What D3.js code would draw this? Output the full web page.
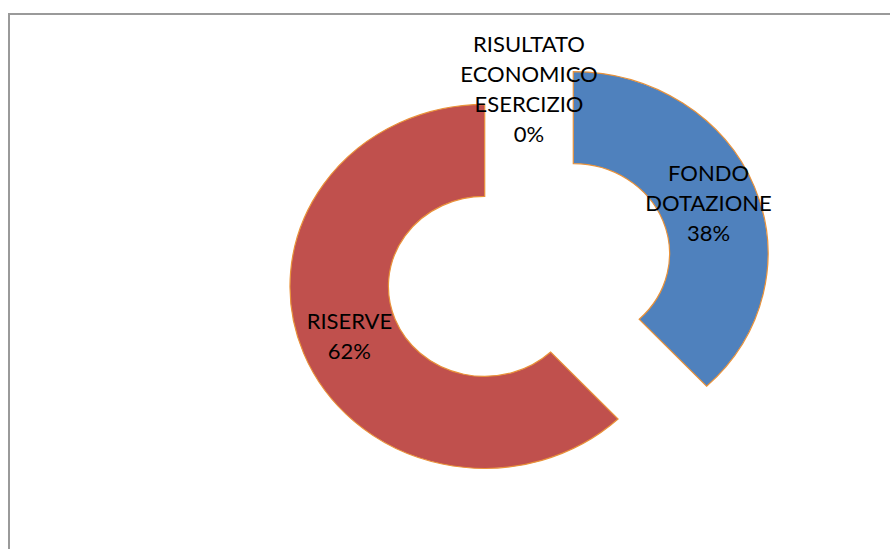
<!DOCTYPE html>
<html>
<head>
<meta charset="utf-8">
<script src="https://cdn.jsdelivr.net/npm/d3@7"></script>
<style>
  html, body { margin: 0; padding: 0; background: #fff; }
  svg { display: block; }
</style>
</head>
<body>
<svg id="chart" width="890" height="549"></svg>
<script>
// Composition of the patrimonio netto
const categories = ["FONDO DOTAZIONE", "RISERVE", "RISULTATO ECONOMICO ESERCIZIO"];
const values = [38, 62, 0];
const colors = ["#4F81BD", "#C0504D", "#9BBB59"];

const W = 890, H = 549;
const cx = 529, cy = 270;
const outerR = 182, innerR = 90;
const explode = 44.5;       // distance each slice is pulled out of the ring
const sx = 1.07;            // horizontal stretch of the plot area

const svg = d3.select("#chart");

// chart frame
svg.append("rect")
  .attr("x", 9).attr("y", 14)
  .attr("width", W + 20).attr("height", H + 20)
  .attr("fill", "#fff")
  .attr("stroke", "#9a9a9a")
  .attr("stroke-width", 2);

const data = categories.map((c, i) => ({ name: c, value: values[i], color: colors[i] }));
const total = d3.sum(values);

const pie = d3.pie().sort(null).value(d => d.value).startAngle(0).endAngle(2 * Math.PI);
const arcs = pie(data);

const arc = d3.arc().innerRadius(innerR).outerRadius(outerR);
const labelArc = d3.arc().innerRadius((innerR + outerR) / 2).outerRadius((innerR + outerR) / 2);

function offset(d) {
  const a = (d.startAngle + d.endAngle) / 2;
  return [explode * Math.sin(a), -explode * Math.cos(a)];
}

const ring = svg.append("g")
  .attr("transform", `translate(${cx},${cy}) scale(${sx},1)`);

ring.selectAll("path")
  .data(arcs.filter(d => d.value > 0))
  .join("path")
  .attr("transform", d => `translate(${offset(d)[0]},${offset(d)[1]})`)
  .attr("d", arc)
  .attr("fill", d => d.data.color)
  .attr("stroke", "#E9923A")
  .attr("stroke-width", 1.2)
  .attr("vector-effect", "non-scaling-stroke");

// data labels: category words stacked, percentage below
const lineH = 30;
const labels = svg.append("g")
  .attr("font-family", "Lato, 'Open Sans', sans-serif")
  .attr("font-size", 22)
  .attr("fill", "#000")
  .attr("text-anchor", "middle");

arcs.forEach(d => {
  const o = offset(d);
  const c = labelArc.centroid(d);
  const x = cx + (c[0] + o[0]) * sx;
  const y = cy + c[1] + o[1];
  const lines = d.data.name.split(" ").concat([d3.format(".0%")(d.data.value / total)]);
  const t = labels.append("text")
    .attr("x", x)
    .attr("y", y - (lines.length - 1) * lineH / 2)
    .attr("dy", "0.36em");
  lines.forEach((ln, i) => {
    t.append("tspan")
      .attr("x", x)
      .attr("dy", i === 0 ? "0.36em" : lineH)
      .text(ln);
  });
});
</script>
</body>
</html>
